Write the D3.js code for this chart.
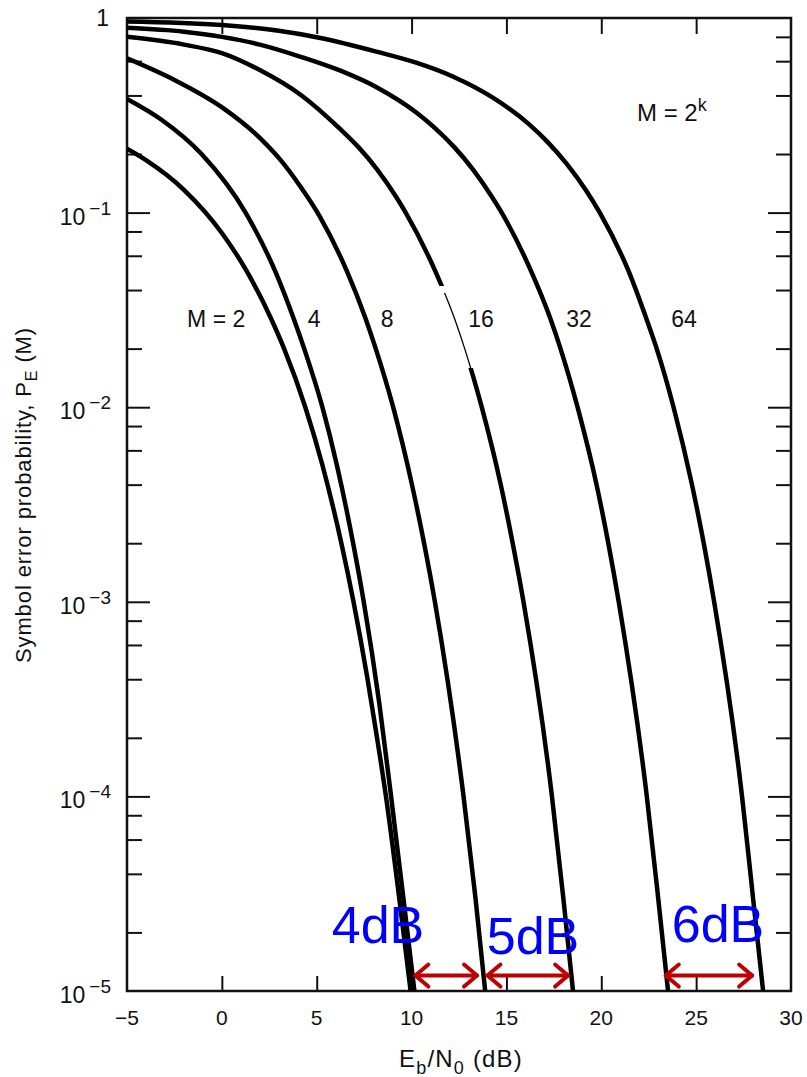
<!DOCTYPE html>
<html>
<head>
<meta charset="utf-8">
<script src="https://cdn.jsdelivr.net/npm/d3@7"></script>
<style>
body { margin: 0; background: #fff; }
text { font-family: "Liberation Sans", Arial, sans-serif; fill: #111; }
</style>
</head>
<body>
<svg id="chart" width="807" height="1077"></svg>
<script>
/*
values
Eb/N0 in dB, symbol error probability
*/
var ebn0_m2 = [-5, -4, -2, 0, 1.31, 2.56, 3.28, 4.4, 5.31, 6.3, 6.94, 7.68, 8.18, 8.65, 9.35, 9.95];
var pe_m2 = [0.213, 0.186, 0.131, 0.0786, 0.05, 0.029, 0.02, 0.01, 0.005, 0.002, 0.001, 4e-4, 2e-4, 1e-4, 3e-5, 1e-5];

var ebn0_m4 = [-5, -3.18, -1.07, 1.25, 2.81, 3.77, 4.34, 5.3, 6.07, 6.92, 7.48, 8.3, 8.92, 9.57, 10.15];
var pe_m4 = [0.384, 0.3, 0.2, 0.1, 0.05, 0.0288, 0.02, 0.01, 0.005, 0.002, 0.001, 3e-4, 1e-4, 3e-5, 1e-5];

var ebn0_m8 = [-5, -2.5, 0.05, 2.08, 3.1, 4.12, 5.15, 6.59, 7.56, 8.11, 9.03, 10.02, 10.66, 11.23, 12.74, 13.37, 13.88];
var pe_m8 = [0.62, 0.48, 0.345, 0.238, 0.186, 0.137, 0.096, 0.05, 0.0288, 0.02, 0.01, 0.004, 0.002, 0.001, 1e-4, 3e-5, 1e-5];

var ebn0_m16 = [-5, -2, 0, 2, 4.2, 6.2, 7.2, 8.2, 9.2, 9.69, 11.25, 12.25, 12.8, 13.7, 14.7, 15.33, 15.9, 17.4, 18.0, 18.51];
var pe_m16 = [0.80, 0.73, 0.66, 0.54, 0.40, 0.271, 0.217, 0.166, 0.12, 0.1, 0.05, 0.0288, 0.02, 0.01, 0.004, 0.002, 0.001, 1e-4, 3e-5, 1e-5];

var ebn0_m32 = [-5, -2, 0, 2, 4.2, 6.25, 8.25, 10.25, 11.25, 12.25, 13.25, 14.25, 14.75, 16.3, 17.3, 17.85, 18.75, 19.75, 20.37, 20.92, 22.4, 23.0, 23.52];
var pe_m32 = [0.89, 0.85, 0.80, 0.73, 0.63, 0.536, 0.436, 0.327, 0.271, 0.217, 0.166, 0.12, 0.1, 0.05, 0.0288, 0.02, 0.01, 0.004, 0.002, 0.001, 1e-4, 3e-5, 1e-5];

var ebn0_m64 = [-5, 0, 3, 5.2, 8.2, 10.2, 12.2, 14.2, 16.2, 17.2, 18.2, 19.2, 19.92, 21.44, 22.36, 22.92, 23.81, 24.78, 25.4, 25.95, 27.42, 28.0, 28.53];
var pe_m64 = [0.96, 0.92, 0.86, 0.79, 0.67, 0.591, 0.499, 0.394, 0.284, 0.229, 0.177, 0.13, 0.1, 0.05, 0.0288, 0.02, 0.01, 0.004, 0.002, 0.001, 1e-4, 3e-5, 1e-5];

// labels along the curves (text, Eb/N0 where it is centred)
var curve_labels = ["M = 2", "4", "8", "16", "32", "64"];
var curve_label_x = [-0.3, 4.86, 8.71, 13.66, 18.83, 24.36];
var curve_label_pe = 0.0258;

// axis ticks
var x_ticks = [-5, 0, 5, 10, 15, 20, 25, 30];
var y_decades = [0, -1, -2, -3, -4, -5];
var y_minor_mult = [2, 4, 6, 8];

// dB spacing annotations
var gap_from = [10.2, 14.0, 23.4];
var gap_to = [13.45, 18.25, 27.95];
var gap_text = ["4dB", "5dB", "6dB"];
var gap_pe = 1.2e-5;

/*
layout
*/
var plot_left = 127, plot_right = 791, plot_top = 18, plot_bottom = 991;
var svg = d3.select("#chart");

var x = d3.scaleLinear().domain([-5, 30]).range([plot_left, plot_right]);
var y = d3.scaleLog().domain([1e-5, 1]).range([plot_bottom, plot_top]);

var major_vals = y_decades.map(function(d){ return Math.pow(10, d); });
var minor_vals = [];
for (var i = 1; i < y_decades.length; i++){
	y_minor_mult.forEach(function(m){ minor_vals.push(m * Math.pow(10, y_decades[i])); });
}
var inner_x = x_ticks.slice(1, x_ticks.length - 1);

// ticks: all pointing into the plot
function tick_axis(gen, vals, size, tx, ty){
	var g = svg.append("g")
		.attr("transform", "translate(" + tx + "," + ty + ")")
		.call(gen.tickValues(vals).tickSize(size).tickFormat(""));
	g.select(".domain").remove();
	g.selectAll(".tick line").attr("stroke", "#111").attr("stroke-width", 2);
	return g;
}
tick_axis(d3.axisLeft(y), minor_vals, -15, plot_left, 0);
tick_axis(d3.axisLeft(y), major_vals.slice(1, 5), -23, plot_left, 0);
tick_axis(d3.axisRight(y), minor_vals, -15, plot_right, 0);
tick_axis(d3.axisRight(y), major_vals.slice(1, 5), -23, plot_right, 0);
tick_axis(d3.axisBottom(x), inner_x, -15, 0, plot_bottom);
tick_axis(d3.axisTop(x), inner_x, -16, 0, plot_top);

// frame
svg.append("rect")
	.attr("x", plot_left).attr("y", plot_top)
	.attr("width", plot_right - plot_left).attr("height", plot_bottom - plot_top)
	.attr("fill", "none").attr("stroke", "#111").attr("stroke-width", 2.5);

// x tick labels
svg.append("g").selectAll("text")
	.data(x_ticks)
	.enter().append("text")
	.attr("x", function(d){ return x(d); })
	.attr("y", plot_bottom + 34)
	.attr("text-anchor", "middle")
	.attr("font-size", 21)
	.text(function(d){ return d < 0 ? "\u2212" + Math.abs(d) : d; });

// y tick labels, 10 with superscript
var ylab = svg.append("g").selectAll("text")
	.data(y_decades)
	.enter().append("text")
	.attr("x", 111)
	.attr("y", function(d){ return d == 0 ? 26 : y(Math.pow(10, d)) + 12; })
	.attr("text-anchor", "end")
	.attr("font-size", 23);
ylab.each(function(d){
	var t = d3.select(this);
	if (d == 0){
		t.attr("x", 109).text("1");
		return;
	}
	t.append("tspan").text("10");
	t.append("tspan").attr("dy", -10).attr("dx", 4).attr("font-size", 19).text("\u2212" + Math.abs(d));
});

// axis titles
var xt = svg.append("text")
	.attr("x", 461).attr("y", 1067)
	.attr("text-anchor", "middle")
	.attr("font-size", 24)
	.attr("letter-spacing", 1.2);
xt.append("tspan").text("E");
xt.append("tspan").attr("dy", 7).attr("font-size", 18).text("b");
xt.append("tspan").attr("dy", -7).text("/N");
xt.append("tspan").attr("dy", 7).attr("font-size", 18).text("0");
xt.append("tspan").attr("dy", -7).text(" (dB)");

var yt = svg.append("text")
	.attr("transform", "translate(31,495) rotate(-90)")
	.attr("text-anchor", "middle")
	.attr("font-size", 22)
	.attr("letter-spacing", 0.9);
yt.append("tspan").text("Symbol error probability, P");
yt.append("tspan").attr("dy", 6).attr("font-size", 16).text("E");
yt.append("tspan").attr("dy", -6).text(" (M)");

/*
curves
*/
var line = d3.line()
	.x(function(d){ return x(d[0]); })
	.y(function(d){ return y(d[1]); })
	.curve(d3.curveMonotoneX);

var defs = svg.append("defs");
defs.append("clipPath").attr("id", "plot_clip")
	.append("rect").attr("x", plot_left).attr("y", plot_top).attr("width", plot_right - plot_left).attr("height", plot_bottom - plot_top);
// the 16 curve is broken where its label sits
var gap_top = 286, gap_bot = 368;
var c_thick = defs.append("clipPath").attr("id", "thick16");
c_thick.append("rect").attr("x", plot_left).attr("y", plot_top).attr("width", plot_right - plot_left).attr("height", gap_top - plot_top);
c_thick.append("rect").attr("x", plot_left).attr("y", gap_bot).attr("width", plot_right - plot_left).attr("height", plot_bottom - gap_bot);
defs.append("clipPath").attr("id", "thin16")
	.append("rect").attr("x", plot_left).attr("y", gap_top + 7).attr("width", plot_right - plot_left).attr("height", gap_bot - gap_top - 7);

var series = [
	[ebn0_m2, pe_m2],
	[ebn0_m4, pe_m4],
	[ebn0_m8, pe_m8],
	[ebn0_m16, pe_m16],
	[ebn0_m32, pe_m32],
	[ebn0_m64, pe_m64]
];
var curves = svg.append("g").attr("clip-path", "url(#plot_clip)");
series.forEach(function(s, k){
	var pts = d3.zip(s[0], s[1]);
	if (k == 3){
		curves.append("path").datum(pts)
			.attr("d", line).attr("fill", "none").attr("stroke", "#000").attr("stroke-width", 4.5)
			.attr("clip-path", "url(#thick16)");
		curves.append("path").datum(pts)
			.attr("d", line).attr("fill", "none").attr("stroke", "#000").attr("stroke-width", 1.3)
			.attr("clip-path", "url(#thin16)");
	} else {
		curves.append("path").datum(pts)
			.attr("d", line).attr("fill", "none").attr("stroke", "#000").attr("stroke-width", 4.5);
	}
});

// curve labels
svg.append("g").selectAll("text")
	.data(curve_labels)
	.enter().append("text")
	.attr("x", function(d, i){ return x(curve_label_x[i]); })
	.attr("y", y(curve_label_pe))
	.attr("text-anchor", "middle")
	.attr("font-size", 23)
	.text(function(d){ return d; });

var mk = svg.append("text").attr("x", 637).attr("y", 121).attr("font-size", 24);
mk.append("tspan").text("M = 2");
mk.append("tspan").attr("dy", -10).attr("font-size", 18).text("k");

/*
dB spacing arrows
*/
function chevron(px, py, dir){
	return "M" + (px + dir * 13) + "," + (py - 11) + "L" + px + "," + py + "L" + (px + dir * 13) + "," + (py + 11);
}
var ar = svg.append("g").attr("stroke", "#c00000").attr("stroke-width", 4).attr("fill", "none")
	.attr("stroke-linecap", "round").attr("stroke-linejoin", "round");
gap_from.forEach(function(a, i){
	var x0 = x(a), x1 = x(gap_to[i]), yy = y(gap_pe);
	ar.append("line").attr("x1", x0).attr("x2", x1).attr("y1", yy).attr("y2", yy);
	ar.append("path").attr("d", chevron(x0, yy, 1));
	ar.append("path").attr("d", chevron(x1, yy, -1));
});
var gap_label_x = [378, 533, 718];
var gap_label_y = [943, 954, 942];
svg.append("g").selectAll("text")
	.data(gap_text)
	.enter().append("text")
	.attr("x", function(d, i){ return gap_label_x[i]; })
	.attr("y", function(d, i){ return gap_label_y[i]; })
	.attr("text-anchor", "middle")
	.attr("font-size", 52)
	.style("fill", "#0000ff")
	.text(function(d){ return d; });
</script>
</body>
</html>
